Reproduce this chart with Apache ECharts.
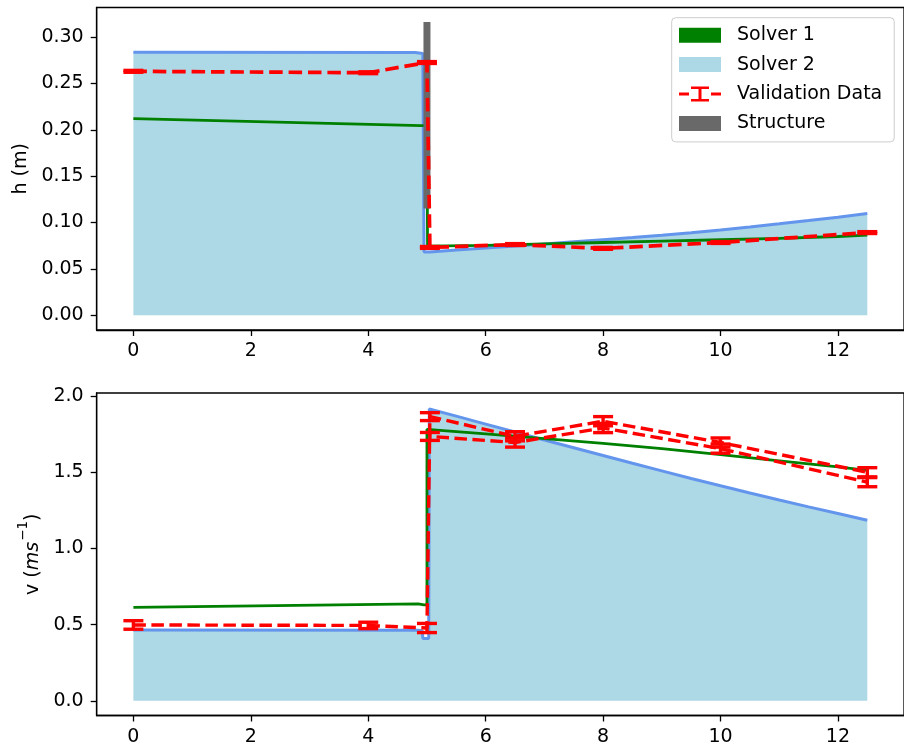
<!DOCTYPE html>
<html>
<head>
<meta charset="utf-8">
<script src="https://cdn.jsdelivr.net/npm/echarts@6/dist/echarts.min.js"></script>
<style>
  html, body { margin: 0; padding: 0; background: #ffffff; }
  #chart { width: 904px; height: 753px; }
</style>
</head>
<body>
<div id="chart"></div>
<script>
// ---- Water depth h (m) along the channel ----
const hSolver1X = [0, 4.9, 5.0, 5.01, 6, 7, 8, 9, 10, 11, 12, 12.5];
const hSolver1  = [0.212, 0.2045, 0.2045, 0.0745, 0.0755, 0.077, 0.0785, 0.080, 0.0815, 0.083, 0.085, 0.0865];

const hSolver2X = [0, 4.8, 4.93, 4.95, 5.05, 5.5, 6, 6.5, 7, 7.5, 8, 8.5, 9, 9.5, 10, 10.5, 11, 11.5, 12, 12.5];
const hSolver2  = [0.2835, 0.2833, 0.2822, 0.0683, 0.0683, 0.0703, 0.0725, 0.0747, 0.0770, 0.0793, 0.0816, 0.0839, 0.0863, 0.0890, 0.0920, 0.0953, 0.0987, 0.1022, 0.1058, 0.1097];

const hValX   = [0, 4, 5, 5.05, 6.5, 8, 10, 12.5];
const hVal    = [0.263, 0.2615, 0.2725, 0.0732, 0.0763, 0.0722, 0.0785, 0.0892];
const hValErr = [0.001, 0.001, 0.001, 0.001, 0.001, 0.001, 0.001, 0.001];

// vertical wall of the structure
const structX = [5.0, 5.0];
const structH = [0.119, 0.3125];

// ---- Depth-averaged velocity v (m/s) ----
const vSolver1X = [0, 4.85, 4.95, 5.0, 5.0, 6, 7, 8, 9, 10, 11, 12, 12.5];
const vSolver1  = [0.614, 0.636, 0.63, 0.63, 1.782, 1.752, 1.72, 1.69, 1.655, 1.615, 1.575, 1.535, 1.513];

const vSolver2X = [0, 4.85, 4.92, 4.93, 5.03, 5.04, 5.5, 6, 6.5, 7, 7.5, 8, 8.5, 9, 9.5, 10, 10.5, 11, 11.5, 12, 12.5];
const vSolver2  = [0.465, 0.463, 0.46, 0.41, 0.41, 1.915, 1.868, 1.816, 1.764, 1.712, 1.661, 1.610, 1.559, 1.509, 1.459, 1.411, 1.364, 1.318, 1.273, 1.229, 1.185];

const vValX   = [0, 4, 5, 5.05, 6.5, 8, 10, 12.5, 12.5, 10, 8, 6.5, 5.05];
const vVal    = [0.498, 0.495, 0.478, 1.865, 1.736, 1.835, 1.695, 1.50, 1.435, 1.655, 1.79, 1.695, 1.735];
const vValErr = [0.028, 0.021, 0.03, 0.026, 0.03, 0.03, 0.03, 0.03, 0.03, 0.03, 0.03, 0.03, 0.026];

// ---- tick labels ----
const xTicks  = [0, 2, 4, 6, 8, 10, 12];
const hTicks  = [0, 0.05, 0.10, 0.15, 0.20, 0.25, 0.30];
const vTicks  = [0, 0.5, 1.0, 1.5, 2.0];

const FONT = 'DejaVu Sans';
const FS = 19;
const GREEN = '#008000', BLUE_LINE = '#6495ed', BLUE_FILL = '#add8e6', RED = '#ff0000', GRAY = '#696969';

const pairs = (xs, ys) => xs.map((x, i) => [x, ys[i]]);
const errData = (xs, ys, es) => xs.map((x, i) => [x, ys[i] - es[i], ys[i] + es[i]]);

function errorBars(params, api) {
  const x = api.value(0);
  const lo = api.coord([x, api.value(1)]);
  const hi = api.coord([x, api.value(2)]);
  const cap = 10;
  const st = { stroke: RED, lineWidth: 3.4 };
  return {
    type: 'group',
    children: [
      { type: 'line', shape: { x1: lo[0], y1: lo[1], x2: hi[0], y2: hi[1] }, style: st },
      { type: 'line', shape: { x1: lo[0] - cap, y1: lo[1], x2: lo[0] + cap, y2: lo[1] }, style: st },
      { type: 'line', shape: { x1: hi[0] - cap, y1: hi[1], x2: hi[0] + cap, y2: hi[1] }, style: st }
    ]
  };
}

function xAxisCfg(gi) {
  return {
    gridIndex: gi, type: 'value', min: -0.625, max: 13.125,
    axisLine: { show: true, onZero: false, lineStyle: { color: '#000', width: 1.3 } },
    axisTick: { show: true, length: 6, customValues: xTicks, lineStyle: { color: '#000', width: 1.3 } },
    axisLabel: { customValues: xTicks, margin: 12, color: '#000', fontSize: FS, fontFamily: FONT },
    splitLine: { show: false }
  };
}

function yAxisCfg(gi, min, max, ticks, digits, name, gap, rich) {
  return {
    gridIndex: gi, type: 'value', min: min, max: max,
    name: name, nameLocation: 'middle', nameGap: gap,
    nameTextStyle: { color: '#000', fontSize: FS, fontFamily: FONT, rich: rich },
    axisLine: { show: true, onZero: false, lineStyle: { color: '#000', width: 1.3 } },
    axisTick: { show: true, length: 6, customValues: ticks, lineStyle: { color: '#000', width: 1.3 } },
    axisLabel: { customValues: ticks, margin: 13, color: '#000', fontSize: FS, fontFamily: FONT,
                 formatter: v => v.toFixed(digits) },
    splitLine: { show: false }
  };
}

const valIcon = 'path://M0,6h10v3h-10z M12,0h18v2.5h-18z M19.5,2.5h3v10h-3z M12,12.5h18v2.5h-18z M32,6h10v3h-10z';

const chart = echarts.init(document.getElementById('chart'), null, { renderer: 'canvas' });
chart.setOption({
  animation: false,
  backgroundColor: '#ffffff',
  grid: [
    { left: 96.7, right: -2.3, top: 7.5, height: 322.5, show: true, borderColor: '#000', borderWidth: 1.3, backgroundColor: 'transparent' },
    { left: 96.7, right: -2.3, top: 393, height: 322.5, show: true, borderColor: '#000', borderWidth: 1.3, backgroundColor: 'transparent' }
  ],
  xAxis: [xAxisCfg(0), xAxisCfg(1)],
  yAxis: [
    yAxisCfg(0, -0.0158, 0.3318, hTicks, 2, 'h (m)', 63),
    yAxisCfg(1, -0.096, 2.02, vTicks, 1, '{a|v (}{i|ms}{s|−1}{a|)}', 49, {
      a: { fontSize: FS, fontFamily: FONT, color: '#000', verticalAlign: 'bottom', lineHeight: 20 },
      i: { fontSize: FS, fontFamily: FONT, fontStyle: 'italic', color: '#000', verticalAlign: 'bottom', lineHeight: 20 },
      s: { fontSize: 13.5, fontFamily: FONT, color: '#000', verticalAlign: 'bottom', lineHeight: 14, padding: [0, 0, 12, 1] }
    })
  ],
  legend: {
    orient: 'vertical', left: 671.7, top: 17.7,
    itemWidth: 42, itemHeight: 15, itemGap: 10.4,
    padding: [8, 12, 9, 7.3],
    borderColor: '#cccccc', borderWidth: 1, borderRadius: 4,
    backgroundColor: 'rgba(255,255,255,0.8)',
    selectedMode: false,
    textStyle: { color: '#000', fontSize: FS, fontFamily: FONT, padding: [0, 0, 0, 11] },
    data: [
      { name: 'Solver 1', icon: 'rect', itemStyle: { color: GREEN, borderWidth: 0 } },
      { name: 'Solver 2', icon: 'rect', itemStyle: { color: BLUE_FILL, borderWidth: 0 } },
      { name: 'Validation Data', icon: valIcon, itemStyle: { color: RED, borderWidth: 0 } },
      { name: 'Structure', icon: 'rect', itemStyle: { color: GRAY, borderWidth: 0 } }
    ]
  },
  series: [
    // upper panel: depth
    { name: 'Solver 2', type: 'line', xAxisIndex: 0, yAxisIndex: 0, data: pairs(hSolver2X, hSolver2),
      showSymbol: false, color: BLUE_LINE, lineStyle: { color: BLUE_LINE, width: 3 },
      areaStyle: { color: BLUE_FILL, opacity: 1, origin: 'auto' }, z: 1 },
    { name: 'Solver 1', type: 'line', xAxisIndex: 0, yAxisIndex: 0, data: pairs(hSolver1X, hSolver1),
      showSymbol: false, color: GREEN, lineStyle: { color: GREEN, width: 2.8 }, z: 2 },
    { name: 'Structure', type: 'line', xAxisIndex: 0, yAxisIndex: 0, data: pairs(structX, structH),
      showSymbol: false, color: GRAY, lineStyle: { color: GRAY, width: 7, cap: 'square' }, z: 3 },
    { name: 'Validation Data', type: 'line', xAxisIndex: 0, yAxisIndex: 0, data: pairs(hValX, hVal),
      showSymbol: false, color: RED, lineStyle: { color: RED, width: 3.7, type: [13.5, 5.9] }, z: 4 },
    { name: 'Validation Data', type: 'custom', xAxisIndex: 0, yAxisIndex: 0, renderItem: errorBars,
      data: errData(hValX, hVal, hValErr), encode: { x: 0, y: [1, 2] }, color: RED, z: 5 },

    // lower panel: velocity
    { name: 'Solver 2', type: 'line', xAxisIndex: 1, yAxisIndex: 1, data: pairs(vSolver2X, vSolver2),
      showSymbol: false, color: BLUE_LINE, lineStyle: { color: BLUE_LINE, width: 3 },
      areaStyle: { color: BLUE_FILL, opacity: 1, origin: 'auto' }, z: 1 },
    { name: 'Solver 1', type: 'line', xAxisIndex: 1, yAxisIndex: 1, data: pairs(vSolver1X, vSolver1),
      showSymbol: false, color: GREEN, lineStyle: { color: GREEN, width: 2.8 }, z: 2 },
    { name: 'Validation Data', type: 'line', xAxisIndex: 1, yAxisIndex: 1, data: pairs(vValX, vVal),
      showSymbol: false, color: RED, lineStyle: { color: RED, width: 3.4, type: [12.5, 5.5] }, z: 4 },
    { name: 'Validation Data', type: 'custom', xAxisIndex: 1, yAxisIndex: 1, renderItem: errorBars,
      data: errData(vValX, vVal, vValErr), encode: { x: 0, y: [1, 2] }, color: RED, z: 5 }
  ]
});
</script>
</body>
</html>
